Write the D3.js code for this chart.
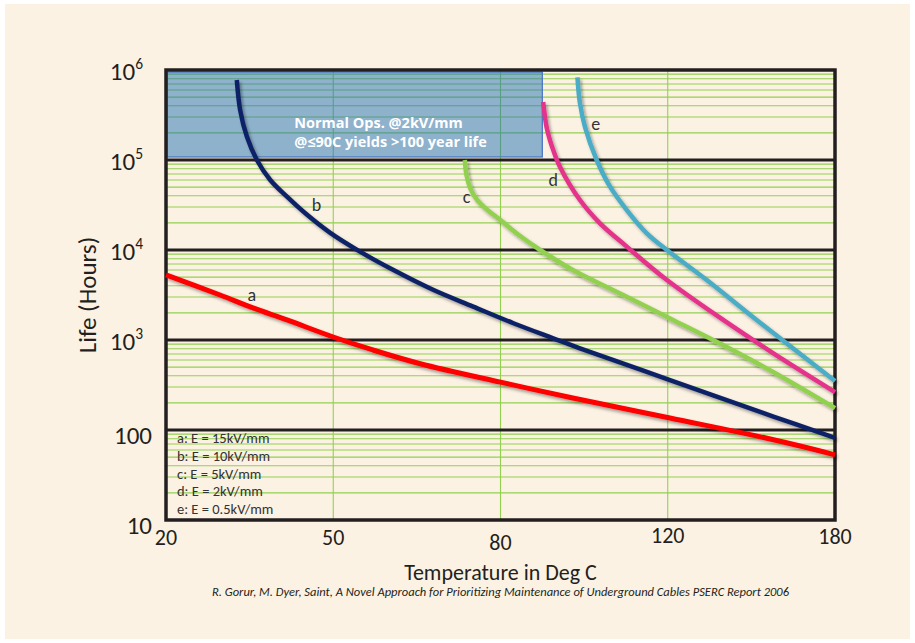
<!DOCTYPE html>
<html><head><meta charset="utf-8">
<script src="https://cdn.jsdelivr.net/npm/d3@7"></script>
<style>
html,body{margin:0;padding:0;background:#fff;}
svg{display:block;}
text{font-family: Carlito, Calibri, Lato, "Open Sans", sans-serif;}
</style>
</head><body>
<svg id="chart" width="915" height="643"></svg>
<script>
// ---------------- data ----------------
const xTicks = [20, 50, 80, 120, 180];
const yTicks = [10, 100, 1e3, 1e4, 1e5, 1e6];
const yTickBase = ["10", "100", "10", "10", "10", "10"];
const yTickExp = ["", "", "3", "4", "5", "6"];
const seriesNames = ["a", "b", "c", "d", "e"];
const legendLabels = ["a: E = 15kV/mm", "b: E = 10kV/mm", "c: E = 5kV/mm", "d: E = 2kV/mm", "e: E = 0.5kV/mm"];
// [temperature degC, life hours]
const curveA = [[20,5300],[29.7,3160],[35.6,2270],[41.7,1670],[50,1080],[57.1,775],[65.6,545],[80,340],[97.3,227],[120.8,136],[155.6,81],[180,53]];
const curveB = [[32.7,774000],[33.3,359000],[34.5,182000],[36.3,100000],[38.7,60000],[41.7,39100],[45.2,24900],[49.4,15600],[54.8,9600],[60.8,5990],[68,3590],[75.1,2350],[83.1,1535],[92.6,1045],[99,809],[120.8,359],[157.9,141],[180,82]];
const curveC = [[73.6,100000],[73.9,68000],[74.6,48000],[75.8,36000],[77.6,28000],[79.7,22200],[84.7,14300],[89.5,10000],[97.3,5990],[110.3,3000],[121.9,1670],[139.8,880],[157.8,441],[180,175]];
const curveD = [[90.2,441000],[91,234000],[91.8,167000],[92.6,129000],[94.2,84300],[99,35900],[103.8,19800],[110.2,10900],[119.8,4640],[139.9,1670],[157.9,711],[180,264]];
const curveE = [[98.4,830000],[99,427000],[100.2,234000],[103,100000],[106.2,50500],[110.2,27800],[115,15300],[119.8,10000],[134,4640],[151.9,1670],[180,350]];
const curveLabelPos = [[35.4,3160],[47,31600],[73.9,38800],[92.6,60000],[102.8,250000]];
const normalOpsTemp = [20, 90];
const normalOpsLife = [1e5, 1e6];
const normalOpsAnchor = [43, 227000];
const normalOpsText = ["Normal Ops. @2kV/mm", "@\u226490C yields >100 year life"];
const xTitle = "Temperature in Deg C";
const yTitle = "Life (Hours)";
const caption = "R. Gorur, M. Dyer, Saint, A Novel Approach for Prioritizing Maintenance of Underground Cables PSERC Report 2006";

// ---------------- layout / style ----------------
const curves = [curveA, curveB, curveC, curveD, curveE];
const colors = ["#ff0000", "#0b2366", "#92d050", "#e5318b", "#4bacc6"];
const widths = [5, 4.5, 4.5, 4.5, 4.5];
const L = 166, R = 835, T = 70, B = 520;

const svg = d3.select("#chart");
svg.append("rect").attr("x",5).attr("y",4).attr("width",905).attr("height",635).attr("fill","#fcf2e3");

const step = (R - L) / (xTicks.length - 1);
const x = d3.scaleLinear().domain(xTicks).range(xTicks.map((d,i)=>L + i*step));
const y = d3.scaleLog().domain([10, 1e6]).range([B, T]);

const defs = svg.append("defs");
const f = defs.append("filter").attr("id","shadow").attr("x","-20%").attr("y","-20%").attr("width","140%").attr("height","140%");
f.append("feDropShadow").attr("dx",2).attr("dy",2.5).attr("stdDeviation",1.6).attr("flood-color","#000").attr("flood-opacity",0.35);

// minor grid lines
const minor = [];
for (let d = 10; d < 1e6; d *= 10) for (let k = 2; k <= 9; k++) minor.push(d*k);
svg.append("g").selectAll("line").data(minor).join("line")
  .attr("x1",L).attr("x2",R).attr("y1",d=>y(d)).attr("y2",d=>y(d))
  .attr("stroke","#92d050").attr("stroke-width",1.1);
// vertical grid lines
svg.append("g").selectAll("line").data(xTicks.slice(1,-1)).join("line")
  .attr("x1",d=>x(d)).attr("x2",d=>x(d)).attr("y1",T).attr("y2",B)
  .attr("stroke","#92d050").attr("stroke-width",1.1);
// major decade lines
svg.append("g").selectAll("line").data(yTicks.slice(1,-1)).join("line")
  .attr("x1",L).attr("x2",R).attr("y1",d=>y(d)).attr("y2",d=>y(d))
  .attr("stroke","#231f20").attr("stroke-width",3);

// Normal ops box
const bx0 = x(normalOpsTemp[0]) + 1, bx1 = x(normalOpsTemp[1]);
const by0 = y(normalOpsLife[1]) + 2, by1 = y(normalOpsLife[0]) - 3;
svg.append("rect").attr("x",bx0).attr("y",by0).attr("width",bx1-bx0).attr("height",by1-by0)
  .attr("fill","#1f6fb5").attr("fill-opacity",0.5).attr("stroke","#4472c4").attr("stroke-width",1.2);

// border
svg.append("rect").attr("x",L).attr("y",T).attr("width",R-L).attr("height",B-T)
  .attr("fill","none").attr("stroke","#231f20").attr("stroke-width",3.5);

// curves
const line = d3.line().x(d=>x(d[0])).y(d=>y(d[1])).curve(d3.curveCatmullRom.alpha(0.5));
svg.append("g").attr("filter","url(#shadow)").selectAll("path").data(curves).join("path")
  .attr("d",line).attr("fill","none").attr("stroke-linecap","butt")
  .attr("stroke",(d,i)=>colors[i]).attr("stroke-width",(d,i)=>widths[i]);

// box text
const bt = svg.append("text").attr("x",x(normalOpsAnchor[0])).attr("y",y(normalOpsAnchor[1]))
  .attr("fill","#fff").attr("font-weight","bold").attr("font-size",14.5)
  .style("font-family","'Open Sans', sans-serif");
normalOpsText.forEach((t,i)=>bt.append("tspan").attr("x",x(normalOpsAnchor[0])).attr("dy",i?19:0).text(t));

// curve labels
svg.append("g").selectAll("text").data(curveLabelPos).join("text")
  .attr("x",d=>x(d[0])).attr("y",d=>y(d[1])).attr("text-anchor","middle").attr("dominant-baseline","central")
  .attr("font-size",18).attr("fill","#333").text((d,i)=>seriesNames[i]);

// legend
svg.append("g").selectAll("text").data(legendLabels).join("text")
  .attr("x",L+11).attr("y",(d,i)=>B-77+i*17.8).attr("font-size",14.5).attr("fill","#333")
  .text(d=>d);

// y tick labels
yTicks.forEach((v,i)=>{
  const t = svg.append("text").attr("text-anchor","end").attr("fill","#231f20").attr("font-size",25);
  if (yTickExp[i]) {
    t.attr("x",L-23).attr("y",y(v)+10);
    t.append("tspan").text(yTickBase[i]);
    t.append("tspan").attr("font-size",15.5).attr("dy",-11).text(yTickExp[i]);
  } else {
    t.attr("x",L-14).attr("y",y(v)+14).text(yTickBase[i]);
  }
});
// x tick labels
const xNudge = [0, 0, 5, -2, -1];
svg.append("g").selectAll("text").data(xTicks).join("text")
  .attr("x",d=>x(d)).attr("y",(d,i)=>B+25+xNudge[i]).attr("text-anchor","middle")
  .attr("font-size",22).attr("fill","#231f20").text(d=>d);

// titles
svg.append("text").attr("x",(L+R)/2).attr("y",B+60).attr("text-anchor","middle")
  .attr("font-size",22).attr("fill","#231f20").text(xTitle);
svg.append("text").attr("transform",`translate(96,${(T+B)/2}) rotate(-90)`).attr("text-anchor","middle")
  .attr("font-size",25).attr("fill","#231f20").text(yTitle);
svg.append("text").attr("x",(L+R)/2).attr("y",B+76).attr("text-anchor","middle")
  .attr("font-size",12.5).attr("font-style","italic").attr("fill","#231f20").text(caption);
</script>
</body></html>
